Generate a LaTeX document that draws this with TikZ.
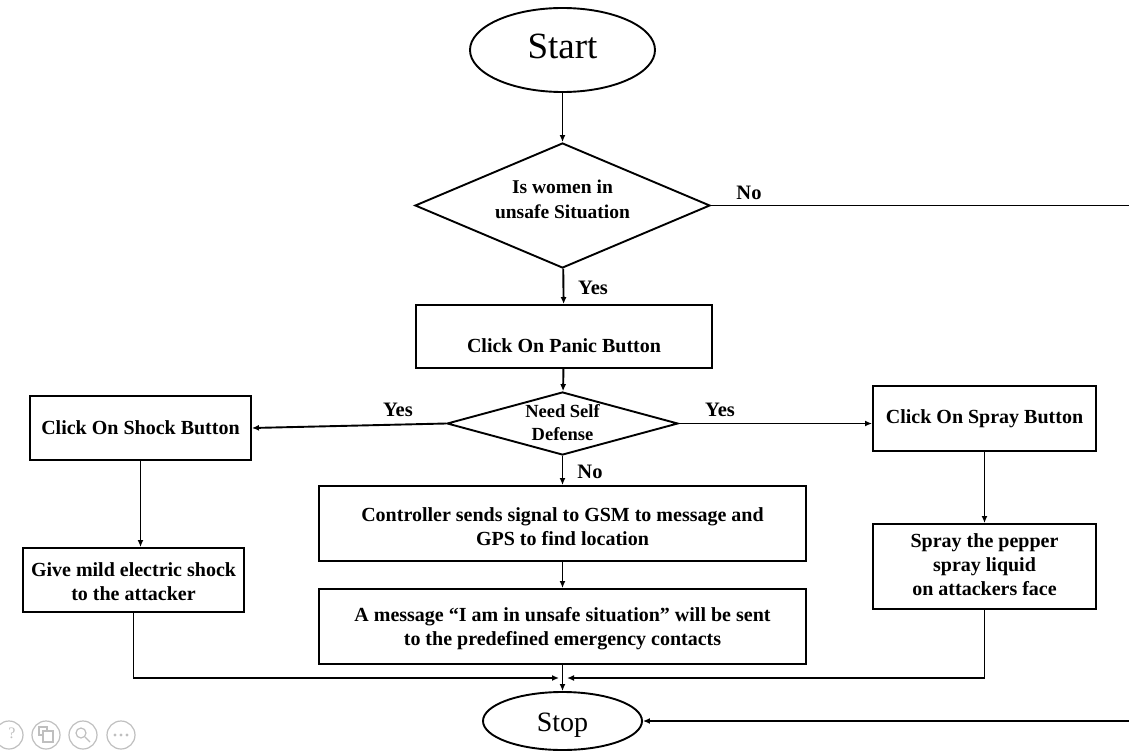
\documentclass[tikz,border=0pt]{standalone}
\usepackage{fontspec}
\setmainfont{Liberation Serif}
\usetikzlibrary{shapes.geometric,arrows.meta}
\newcommand\liftc[2]{\raisebox{#1}[\height][\depth]{\begin{tabular}{@{}c@{}}#2\end{tabular}}}
\newcommand\liftz[2]{\raisebox{#1}[0pt][0pt]{\begin{tabular}{@{}c@{}}#2\end{tabular}}}
\begin{document}
\begin{tikzpicture}[x=1pt,y=-1pt,
  line width=1.9pt,
  arr/.style={-{Latex[length=7pt,width=6pt]}},
  term/.style={draw, ellipse, inner sep=0pt},
  proc/.style={draw, rectangle, inner sep=0pt, font=\fontsize{20}{24}\selectfont\bfseries},
  dec/.style={draw, diamond, inner sep=0pt},
  lbl/.style={font=\fontsize{20.5}{22}\selectfont\bfseries, inner sep=0pt},
  ico/.style={draw=gray!50, line width=1.2pt}
]
\useasboundingbox (0,0) rectangle (1129,752);

% terminals
\node[term, minimum width=185pt, minimum height=84pt, font=\fontsize{37}{40}\selectfont] (start) at (562.5,50) {\liftc{-1pt}{Start}};
\node[term, minimum width=159pt, minimum height=58pt, font=\fontsize{28}{32}\selectfont] (stop) at (562.5,721) {\liftc{-4pt}{Stop}};

% decisions
\node[dec, aspect=2.36, minimum width=295pt, minimum height=125pt, font=\fontsize{19.5}{25}\selectfont\bfseries] (d1) at (562.5,205.5) {\liftc{5pt}{Is women in\\unsafe Situation}};
\node[dec, aspect=3.67, minimum width=231pt, minimum height=63pt, font=\fontsize{18.5}{23}\selectfont\bfseries] (d2) at (562.5,423.5) {\liftz{-5pt}{Need Self\\Defense}};

% processes
\node[proc, minimum width=296pt, minimum height=63pt] (panic) at (564,336.5) {\liftc{-11pt}{Click On Panic Button}};
\node[proc, minimum width=221pt, minimum height=64pt] (shock) at (140.5,428) {\liftc{-2pt}{Click On Shock Button}};
\node[proc, minimum width=221pt, minimum height=64pt] (give) at (133.5,580) {\liftc{-4pt}{Give mild electric shock\\to the attacker}};
\node[proc, minimum width=223pt, minimum height=65pt] (spray) at (984.5,418.5) {\liftc{0pt}{Click On Spray Button}};
\node[proc, minimum width=223pt, minimum height=85pt] (liquid) at (984.5,566.5) {\liftc{0pt}{Spray the pepper\\spray liquid\\on attackers face}};
\node[proc, minimum width=487pt, minimum height=75pt] (ctrl) at (562.5,523.5) {\liftc{-5pt}{Controller sends signal to GSM to message and\\GPS to find location}};
\node[proc, minimum width=487pt, minimum height=75pt] (msg) at (562.5,626.5) {\liftc{-2pt}{A message “I am in unsafe situation” will be sent\\to the predefined emergency contacts}};

% labels
\node[lbl] (noA) at (749,193) {No};
\node[lbl] (yesA) at (593,288) {Yes};
\node[lbl] (yesL) at (398,410) {Yes};
\node[lbl] (yesR) at (720,410) {Yes};
\node[lbl] (noB) at (590,472) {No};

% free ends
\coordinate (noend) at (1129,205.5);
\coordinate (stopin) at (1129,721);
\coordinate (jL) at (559,678);
\coordinate (jR) at (567,678);

% connectors
\draw[arr] (start) -- (d1);
\draw (d1.east) -- (noend);
\draw[arr] (d1) -- (panic);
\draw[arr] (panic) -- (d2);
\draw[arr] (d2.west) -- (shock.east);
\draw[arr] (d2.east) -- (d2.east -| spray.west);
\draw[arr] (d2) -- (ctrl);
\draw[arr] (shock.south) -- (shock.south |- give.north);
\draw[arr] (spray) -- (liquid);
\draw[arr] (ctrl) -- (msg);
\draw[arr] (msg) -- (stop);
\draw[arr] (give.south) |- (jL);
\draw[arr] (liquid.south) |- (jR);
\draw[arr] (stopin) -- (stop.east);

% viewer icons (screenshot artefacts)
\draw[ico] (9,735) circle (14pt);
\node[text=gray!50, font=\fontsize{16}{16}\selectfont] (q) at (12,733) {?};
\draw[ico] (46,735) circle (14pt);
\draw[ico] (39,727) rectangle (47,735);
\draw[ico, fill=white] (43,731) rectangle (53,742);
\draw[ico] (83,735) circle (14pt);
\draw[ico] (81,733) circle (5pt);
\draw[ico] (85,737) -- (90,742);
\draw[ico] (121,735) circle (14pt);
\fill[gray!50] (115,735) circle (1.6pt) (121,735) circle (1.6pt) (127,735) circle (1.6pt);
\end{tikzpicture}
\end{document}
